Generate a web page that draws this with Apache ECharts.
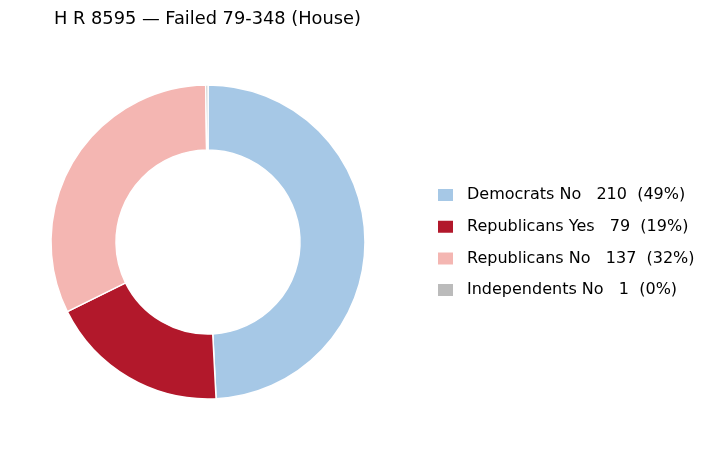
<!DOCTYPE html>
<html>
<head>
<meta charset="utf-8">
<script src="https://cdn.jsdelivr.net/npm/echarts@6/dist/echarts.min.js"></script>
<style>
  html, body { margin: 0; padding: 0; background: #fff; }
  #main { width: 708px; height: 450px; }
</style>
</head>
<body>
<div id="main"></div>
<script>
var groups = ['Democrats No', 'Republicans Yes', 'Republicans No', 'Independents No'];
var votes = [210, 79, 137, 1];
var colors = ['#a6c8e6', '#b2182b', '#f4b6b2', '#bbbbbb'];

(function () {
    var myChart = echarts.init(document.getElementById('main'));
    var total = votes.reduce(function (a, b) { return a + b; }, 0);
    var font = '"DejaVu Sans", sans-serif';

    var pieData = groups.map(function (g, i) {
        return { name: g, value: votes[i], itemStyle: { color: colors[i] } };
    });

    var option = {
        title: {
            text: 'H R 8595 \u2014 Failed 79-348 (House)',
            left: 49,
            top: 5,
            textStyle: {
                fontFamily: font,
                fontSize: 17.8,
                fontWeight: 'normal',
                color: '#000'
            }
        },
        legend: {
            orient: 'vertical',
            left: 431,
            top: 182,
            itemWidth: 17,
            itemHeight: 14,
            itemGap: 15.7,
            icon: 'rect',
            textStyle: {
                fontFamily: font,
                fontSize: 16,
                color: '#000',
                padding: [0, 0, 0, 8]
            },
            formatter: function (name) {
                var i = groups.indexOf(name);
                var pct = Math.round(votes[i] / total * 100);
                return name + '   ' + votes[i] + '  (' + pct + '%)';
            }
        },
        series: [
            {
                type: 'pie',
                center: [208, 242],
                radius: [92, 157],
                startAngle: 90,
                clockwise: true,
                avoidLabelOverlap: false,
                label: { show: false },
                labelLine: { show: false },
                emphasis: { disabled: true },
                itemStyle: {
                    borderColor: '#fff',
                    borderWidth: 1.5
                },
                data: pieData
            }
        ],
        animation: false
    };
    myChart.setOption(option);
})();
</script>
</body>
</html>
